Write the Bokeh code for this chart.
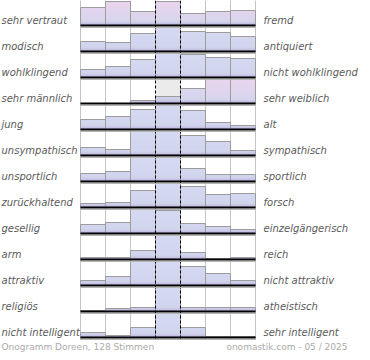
from bokeh.plotting import figure
from bokeh.models import Range1d, ColumnDataSource
from bokeh.core.properties import value
from bokeh.embed import file_html
from bokeh.resources import INLINE

# ---------------- data ----------------
left_labels = ["sehr vertraut", "modisch", "wohlklingend", "sehr männlich", " jung",
               "unsympathisch", "unsportlich", "zurückhaltend", "gesellig", "arm",
               "attraktiv", "religiös", "nicht intelligent"]
right_labels = ["fremd", "antiquiert", "nicht wohlklingend", "sehr weiblich", "alt",
                "sympathisch", "sportlich", "forsch", "einzelgängerisch", "reich",
                "nicht attraktiv", "atheistisch", "sehr intelligent"]
# relative vote frequency for the 7 scale steps (row maximum = 24)
freq = [
    [18, 24, 14, 24, 12, 14, 15],
    [10, 9, 18, 24, 20, 19, 15],
    [8, 11, 18, 24, 23, 20, 19],
    [0, 0, 3, 7, 15, 24, 24],
    [10, 13, 20, 24, 19, 7, 4],
    [8, 6, 24, 24, 20, 14, 5],
    [8, 10, 24, 24, 13, 7, 7],
    [4, 5, 17, 24, 21, 13, 14],
    [9, 11, 24, 23, 10, 7, 4],
    [2, 2, 9, 24, 7, 1, 2],
    [5, 9, 24, 24, 19, 12, 5],
    [1, 3, 4, 24, 4, 4, 4],
    [5, 2, 10, 24, 10, 1, 1],
]
# pink tint of each bar (0 = blue, 1 = pink)
tint = [
    [1, 1, 1, 1, 1, 1, 1],
    [0] * 7, [0] * 7,
    [0, 0, 0, 0, 0.5, 1, 1],
    [0] * 7, [0] * 7, [0] * 7, [0] * 7, [0] * 7, [0] * 7, [0] * 7, [0] * 7, [0] * 7,
]
neutral_cells = [(3, 3)]
footer_left = "Onogramm Doreen, 128 Stimmen"
footer_right = "onomastik.com - 05 / 2025"

# ---------------- layout ----------------
W, H = 362, 352
X0, COLW, NCOL = 80, 25, 7
BASE0, PITCH = 25, 26
BARMAX = 24
FMAX = 24.0
scale = BARMAX / FMAX
nrows = len(freq)
baselines = [BASE0 + i * PITCH for i in range(nrows)]


def mix(a, b, t):
    return tuple(a[k] + (b[k] - a[k]) * t for k in range(3))


def hexc(c):
    return "#%02x%02x%02x" % tuple(int(round(v)) for v in c)


BLUE_TOP = (200, 206, 236)
BLUE_LOW = (192, 197, 231)
PINK = (224, 199, 231)
BOTTOM = [(150, 138, 196), (165, 155, 206), (178, 171, 216), (186, 183, 222)]

p = figure(width=W, height=H, x_range=Range1d(0, W), y_range=Range1d(H, 0),
           output_backend="svg", toolbar_location=None, min_border=0,
           x_axis_location=None, y_axis_location=None)
p.grid.visible = False
p.outline_line_color = None
p.background_fill_color = "white"

ybot = baselines[-1] + 3
# dotted grid lines (behind bars)
gx = [X0 + i * COLW for i in range(NCOL + 1) if i not in (3, 4)]
p.segment(x0=gx, y0=[0] * len(gx), x1=gx, y1=[ybot] * len(gx),
          line_color="#8a8a8a", line_width=1, line_dash="1 1")

# neutral cell background
nl, nr, nt, nb = [], [], [], []
for (r, c) in neutral_cells:
    nl.append(X0 + c * COLW); nr.append(X0 + (c + 1) * COLW)
    nt.append(baselines[r] - BARMAX); nb.append(baselines[r])
p.quad(left=nl, right=nr, top=nt, bottom=nb, fill_color="#ebebeb", line_color=None)

# bars drawn as thin horizontal slices to imitate the gradient
L, R, T, B, C = [], [], [], [], []
oL, oR, oT, oB = [], [], [], []
for r in range(nrows):
    base = baselines[r]
    for c in range(NCOL):
        h = freq[r][c] * scale
        if h <= 0:
            continue
        x0 = X0 + c * COLW
        x1 = x0 + COLW
        oL.append(x0); oR.append(x1); oT.append(base - h); oB.append(base)
        t = 0.0
        while t < h:
            t2 = min(h, t + 1.0)
            k = int(t)
            frac = t / BARMAX
            body = mix(BLUE_LOW, BLUE_TOP, frac)
            body = mix(body, PINK, tint[r][c] * frac ** 0.8)
            if k < len(BOTTOM):
                col = mix(BOTTOM[k], body, 0.15 * k)
            else:
                col = body
            L.append(x0); R.append(x1); T.append(base - t2); B.append(base - t)
            C.append(hexc(col))
            t = t2
src = ColumnDataSource(dict(left=L, right=R, top=T, bottom=B, color=C))
p.quad(left="left", right="right", top="top", bottom="bottom", source=src,
       fill_color="color", line_color=None)
p.quad(left=oL, right=oR, top=oT, bottom=oB, fill_color=None,
       line_color="#9c9c9c", line_width=1)

# dashed middle lines
cx = [X0 + 3 * COLW, X0 + 4 * COLW]
p.segment(x0=cx, y0=[0, 0], x1=cx, y1=[ybot, ybot],
          line_color="black", line_width=1, line_dash="3 2")

# baselines
xl = [X0] * nrows
xr = [X0 + NCOL * COLW] * nrows
p.segment(x0=xl, y0=[b + 2 for b in baselines], x1=xr, y1=[b + 2 for b in baselines],
          line_color="#b4b4b4", line_width=1)
p.segment(x0=xl, y0=baselines, x1=xr, y1=baselines, line_color="black", line_width=2)

# labels
ly = [b - 5 for b in baselines]
p.text(x=[1] * nrows, y=ly, text=left_labels, text_font=value("DejaVu Sans"),
       text_font_style="italic", text_font_size="10px", text_color="#5a5a5a",
       text_align="left", text_baseline="middle")
p.text(x=[263] * nrows, y=ly, text=right_labels, text_font=value("DejaVu Sans"),
       text_font_style="italic", text_font_size="10px", text_color="#5a5a5a",
       text_align="left", text_baseline="middle")

# footer
fy = baselines[-1] + 9
p.text(x=[1], y=[fy], text=[footer_left], text_font=value("DejaVu Sans"),
       text_font_size="9px", text_color="#aaaaaa", text_align="left", text_baseline="middle")
p.text(x=[347], y=[fy], text=[footer_right], text_font=value("DejaVu Sans"),
       text_font_size="9px", text_color="#aaaaaa", text_align="right", text_baseline="middle")

open("out.html", "w").write(file_html(p, INLINE))
